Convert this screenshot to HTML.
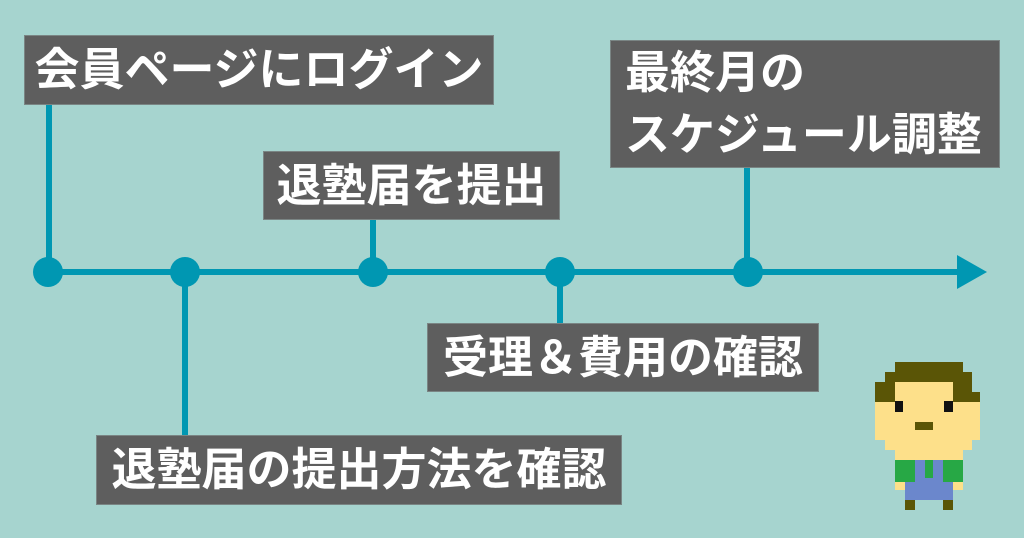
<!DOCTYPE html>
<html><head><meta charset="utf-8">
<style>
html,body{margin:0;padding:0;}
body{width:1024px;height:538px;background:#a6d4cf;position:relative;overflow:hidden;
font-family:"Liberation Sans","Noto Sans CJK JP",sans-serif;}
.b{position:absolute;background:#5e5e5e;border:1px solid #7a8584;box-sizing:border-box;color:#fff;
font-weight:700;font-size:45px;white-space:nowrap;text-align:center;}
svg{position:absolute;left:0;top:0;}
</style></head><body>
<svg width="1024" height="538">
  <g stroke="#0097b2" stroke-width="6" fill="none">
    <line x1="49" y1="105" x2="49" y2="272"/>
    <line x1="185" y1="272" x2="185" y2="436"/>
    <line x1="373" y1="219" x2="373" y2="272"/>
    <line x1="560" y1="272" x2="560" y2="324"/>
    <line x1="747" y1="167" x2="747" y2="272"/>
    <line x1="49" y1="272" x2="962" y2="272"/>
  </g>
  <polygon points="957,255 987,272 957,289" fill="#0097b2"/>
  <g fill="#0097b2">
    <circle cx="48" cy="272" r="15"/>
    <circle cx="185" cy="272" r="15"/>
    <circle cx="373" cy="272" r="15"/>
    <circle cx="560" cy="272" r="15"/>
    <circle cx="748" cy="272" r="15"/>
  </g>
  <!-- character -->
  <g shape-rendering="crispEdges">
    <!-- face -->
    <rect x="895" y="382" width="58" height="20" fill="#fde08a"/>
    <rect x="875" y="402" width="105" height="38" fill="#fde08a"/>
    <rect x="885" y="440" width="87" height="10" fill="#fde08a"/>
    <rect x="895" y="450" width="68" height="10" fill="#fde08a"/>
    <!-- hair -->
    <rect x="895" y="362" width="68" height="10" fill="#5a5506"/>
    <rect x="885" y="372" width="87" height="10" fill="#5a5506"/>
    <rect x="875" y="382" width="20" height="20" fill="#5a5506"/>
    <rect x="953" y="382" width="19" height="10" fill="#5a5506"/>
    <rect x="953" y="392" width="27" height="10" fill="#5a5506"/>
    <!-- eyes -->
    <rect x="895" y="401" width="8" height="11" fill="#111"/>
    <rect x="944" y="401" width="9" height="11" fill="#111"/>
    <!-- mouth -->
    <rect x="915" y="422" width="18" height="8" fill="#5a5506"/>
    <!-- shirt -->
    <rect x="895" y="460" width="68" height="23" fill="#27a845"/>
    <rect x="915" y="460" width="28" height="23" fill="#6b87cc"/>
    <rect x="925" y="460" width="8" height="18" fill="#27a845"/>
    <!-- hands -->
    <rect x="895" y="482" width="10" height="8" fill="#fde08a"/>
    <rect x="953" y="482" width="10" height="8" fill="#fde08a"/>
    <!-- body -->
    <rect x="905" y="482" width="48" height="18" fill="#6b87cc"/>
    <!-- feet -->
    <rect x="905" y="500" width="10" height="10" fill="#5a5506"/>
    <rect x="943" y="500" width="10" height="10" fill="#5a5506"/>
  </g>
</svg>
<div class="b" style="left:24px;top:35px;width:470px;height:70px;line-height:68px;">会員ページにログイン</div>
<div class="b" style="left:263px;top:151px;width:297px;height:69px;line-height:67px;">退塾届を提出</div>
<div class="b" style="left:610px;top:40px;width:390px;height:128px;line-height:62px;text-align:left;padding-left:14px;padding-top:1px;">最終月の<br>スケジュール調整</div>
<div class="b" style="left:427px;top:323px;width:392px;height:69px;line-height:67px;">受理＆費用の確認</div>
<div class="b" style="left:96px;top:435px;width:526px;height:70px;line-height:68px;">退塾届の提出方法を確認</div>
</body></html>
